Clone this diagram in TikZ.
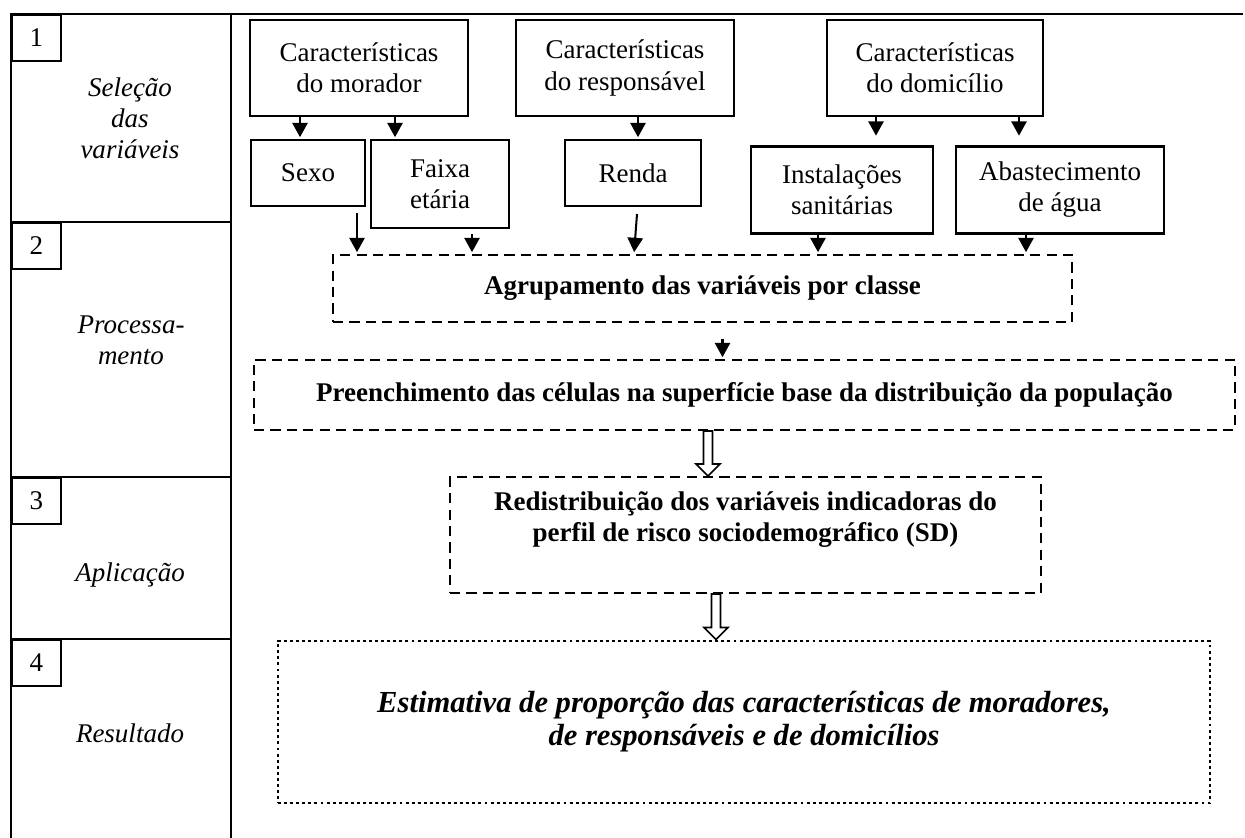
\documentclass[tikz,border=0pt]{standalone}
\usepackage{fontspec}
\setmainfont{Liberation Serif}
\usetikzlibrary{arrows.meta,calc}

% open block arrow from #1 (top) to #2 (tip)
\newcommand{\hollowarrow}[2]{%
  \draw[line width=0.7pt,fill=white] ($(#1)+(-4.5,0)$) -- ($(#2)+(-4.5,-12)$) -- ($(#2)+(-12,-12)$)
     -- (#2) -- ($(#2)+(12,-12)$) -- ($(#2)+(4.5,-12)$) -- ($(#1)+(4.5,0)$) -- cycle;}

\begin{document}
\begin{tikzpicture}[x=0.4444pt,y=-0.4444pt,
    every node/.style={font=\fontsize{12}{13.8}\selectfont, inner sep=0pt, align=center},
    size/.style 2 args={minimum width=#1*0.4444pt, minimum height=#2*0.4444pt},
    frame/.style={line width=0.8pt},
    solidbox/.style={draw, line width=0.9pt},
    numbox/.style={draw, line width=0.8pt, anchor=north west, size={49}{46}},
    dashbox/.style={draw, line width=0.9pt, dash pattern=on 4.5pt off 2.8pt},
    dotbox/.style={draw, line width=1.3pt, dash pattern=on 1.3pt off 1.4pt},
    arr/.style={line width=0.9pt, -{Triangle[width=6.8pt,length=6.4pt]}, shorten >=0.8pt}]
\useasboundingbox (0,0) rectangle (1245,838);

%frame and rows
\draw[frame] (11,838) -- (11,14) -- (1243,14);
\draw[frame] (231,14) -- (231,838);
\foreach \y in {222,477,639} \draw[frame] (11,\y) -- (231,\y);
\foreach \n/\y in {1/14,2/222,3/477,4/639} \node[numbox] (n\n) at (11,\y) {\n};
\node[font=\fontsize{12}{13.8}\selectfont\itshape] (lab1) at (130,118) {Seleção\\das\\variáveis};
\node[font=\fontsize{12}{13.8}\selectfont\itshape] (lab2) at (131,340) {Processa-\\mento};
\node[font=\fontsize{12}{13.8}\selectfont\itshape] (lab3) at (130,575) {Aplicação};
\node[font=\fontsize{12}{13.8}\selectfont\itshape] (lab4) at (130,733) {Resultado};

%top boxes
\node[solidbox, size={218}{96}] (morador) at (359,68) {Características\\do morador};
\node[solidbox, size={218}{96}] (resp) at (625,68) {Características\\do responsável};
\node[solidbox, size={216}{96}] (domic) at (935,68) {Características\\do domicílio};
\node[solidbox, size={114}{66}] (sexo) at (308,173) {Sexo};
\node[solidbox, size={138}{88}] (faixa) at (440,184) {Faixa\\etária};
\node[solidbox, size={136}{66}] (renda) at (633,173) {Renda};
\node[solidbox, size={182}{87}] (inst) at (842,190) {Instalações\\sanitárias};
\node[solidbox, size={208}{87}] (abast) at (1060,190) {Abastecimento\\de água};

%process boxes
\node[dashbox, size={739}{67}, font=\fontsize{12}{13.8}\selectfont\bfseries] (agrup) at (702.5,288.5) {Agrupamento das variáveis por classe};
\node[dashbox, size={981}{70}, font=\fontsize{12}{13.8}\selectfont\bfseries] (preen) at (744.5,395) {Preenchimento das células na superfície base da distribuição da população};
\node[dashbox, size={591}{116}] (redis) at (745.5,535) {};
\node[font=\fontsize{12}{13.8}\selectfont\bfseries] (redistxt) at (745.5,520) {Redistribuição dos variáveis indicadoras do\\perfil de risco sociodemográfico (SD)};
\node[dotbox, size={932}{162}, font=\fontsize{13.6}{14.6}\selectfont\bfseries\itshape] (estim) at (744,722) {Estimativa de proporção das características de moradores,\\de responsáveis e de domicílios};

%arrows
\draw[arr] ([shift={(-59,0)}]morador.south) -- ([shift={(-59,0)}]morador.south |- sexo.north);
\draw[arr] ([shift={(36,0)}]morador.south) -- ([shift={(36,0)}]morador.south |- faixa.north);
\draw[arr] ([shift={(13,0)}]resp.south) -- ([shift={(13,0)}]resp.south |- renda.north);
\draw[arr] ([shift={(-59,0)}]domic.south) -- ([shift={(-59,-8)}]domic.south |- inst.north);
\draw[arr] ([shift={(84,0)}]domic.south) -- ([shift={(84,-8)}]domic.south |- abast.north);
\draw[arr] ([shift={(49,6)}]sexo.south) -- ([shift={(49,0)}]sexo.south |- agrup.north);
\draw[arr] ([shift={(32,5)}]faixa.south) -- ([shift={(32,0)}]faixa.south |- agrup.north);
\draw[arr] ([shift={(4,7)}]renda.south) -- ([shift={(1,0)}]renda.south |- agrup.north);
\draw[arr] ([shift={(-24,0)}]inst.south) -- ([shift={(-24,0)}]inst.south |- agrup.north);
\draw[arr] ([shift={(-34,0)}]abast.south) -- ([shift={(-34,0)}]abast.south |- agrup.north);
\draw[arr] ([shift={(20,16)}]agrup.south) -- ([shift={(20,0)}]agrup.south |- preen.north);

%open arrows
\coordinate (o1) at ([shift={(-36.5,0)}]preen.south);
\coordinate (o1t) at (o1 |- redis.north);
\coordinate (o2) at ([shift={(-29.5,0)}]redis.south);
\coordinate (o2t) at (o2 |- estim.north);
\hollowarrow{o1}{o1t}
\hollowarrow{o2}{o2t}
\end{tikzpicture}
\end{document}
